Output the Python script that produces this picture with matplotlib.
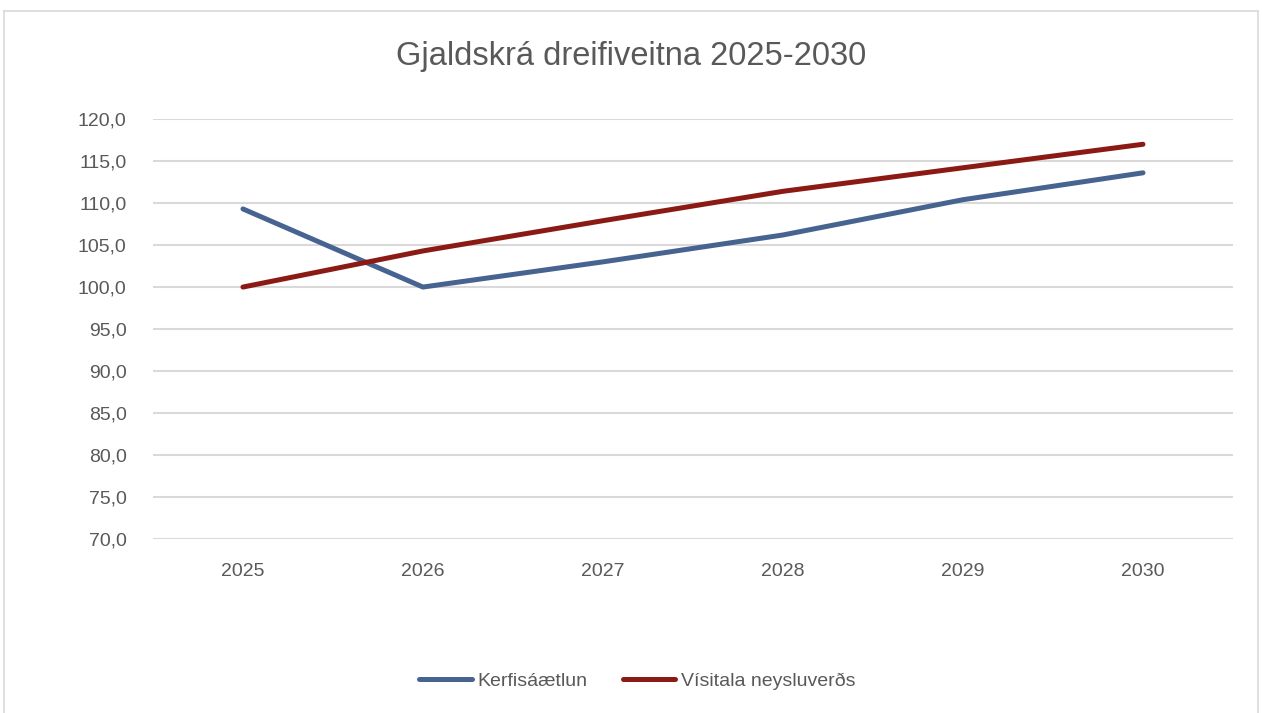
import matplotlib
matplotlib.use('Agg')
import matplotlib.pyplot as plt
from matplotlib.lines import Line2D
from matplotlib.ticker import FuncFormatter

years = ['2025', '2026', '2027', '2028', '2029', '2030']
kerfis = [109.3, 100.0, 103.0, 106.2, 110.4, 113.6]
visitala = [100.0, 104.3, 107.9, 111.4, 114.2, 117.0]
yticks = [70, 75, 80, 85, 90, 95, 100, 105, 110, 115, 120]

plt.rcParams['font.family'] = ['Liberation Sans', 'DejaVu Sans']
grey = '#595959'

fig = plt.figure(figsize=(12.62, 7.13), dpi=100)
ax = fig.add_axes([0.1212, 0.244, 0.8558, 0.589])

x = range(len(years))
ax.plot(x, kerfis, color='#47638f', lw=3.6, solid_capstyle='round', label='Kerfisáætlun')
ax.plot(x, visitala, color='#8b1a14', lw=3.6, solid_capstyle='round', label='Vísitala neysluverðs')

ax.set_xlim(-0.5, len(years) - 0.5)
ax.set_ylim(70, 120)
ax.set_yticks(yticks)
ax.yaxis.set_major_formatter(FuncFormatter(lambda v, p: ('%.1f' % v).replace('.', ',')))
ax.set_xticks(list(x))
ax.set_xticklabels(years)
ax.grid(axis='y', color='#d9d9d9', lw=1.5)
ax.set_axisbelow(True)
for s in ax.spines.values():
    s.set_visible(False)
ax.tick_params(length=0, labelsize=14, labelcolor=grey)
ax.tick_params(axis='y', pad=19)
ax.tick_params(axis='x', pad=17)

fig.text(0.5, 0.921, 'Gjaldskrá dreifiveitna 2025-2030', ha='center', va='center',
         fontsize=23.5, color=grey)

leg = fig.legend(loc='center', bbox_to_anchor=(0.505, 0.045), ncol=2, frameon=False,
                 fontsize=14, handlelength=2.7, handletextpad=0.3, columnspacing=1.8)
for t in leg.get_texts():
    t.set_color(grey)

# chart frame
border = '#d9d9d9'
fig.add_artist(Line2D([0.0032, 0.0032], [0, 0.985], color=border, lw=1.2))
fig.add_artist(Line2D([0.9968, 0.9968], [0, 0.985], color=border, lw=1.2))
fig.add_artist(Line2D([0.0032, 0.9968], [0.985, 0.985], color=border, lw=1.2))

fig.savefig('out.png', dpi=100)
